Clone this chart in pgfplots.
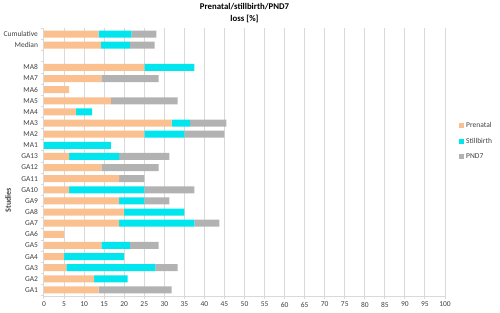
\documentclass[border=0pt]{standalone}
\usepackage{pgfplots}
\usepackage{pgfplotstable}
\pgfplotsset{compat=1.18}
\usepackage{fontspec}
\setmainfont{Carlito}
\definecolor{prenatal}{RGB}{250,192,143}
\definecolor{still}{RGB}{0,229,238}
\definecolor{pnd}{RGB}{178,178,178}
\definecolor{gridc}{RGB}{217,217,217}
\definecolor{txt}{RGB}{64,64,64}
\pgfplotstableread{
y pre still pnd
0 13.64 0 18.18
1 12.5 8.33 0
2 5.56 22.22 5.55
3 5 15 0
4 14.29 7.14 7.14
5 5 0 0
6 18.75 18.75 6.25
7 20 15 0
8 18.75 6.25 6.25
9 6.25 18.75 12.5
10 18.75 0 6.25
11 14.29 0 14.28
12 6.25 12.5 12.5
13 0 16.67 0
14 25 10 10
15 31.82 4.55 9.09
16 8 4 0
17 16.67 0 16.66
18 6.25 0 0
19 14.29 0 14.28
20 25 12.5 0
22 14.2 7.2 6.2
23 13.6 8.2 6.2
}\data
\begin{document}
\begin{tikzpicture}
\begin{axis}[
  scale only axis, width=401pt, height=268pt,
  xbar stacked, bar width=7pt,
  xmin=0, xmax=100, ymin=-0.54, ymax=23.54,
  xtick={0,5,...,100},
  ytick={0,...,20,22,23},
  yticklabels={GA1,GA2,GA3,GA4,GA5,GA6,GA7,GA8,GA9,GA10,GA11,GA12,GA13,MA1,MA2,MA3,MA4,MA5,MA6,MA7,MA8,Median,Cumulative},
  minor ytick={-0.5,0.5,...,23.5},
  ytick style={draw=none},
  minor y tick style={draw=gridc, line width=0.8pt},
  minor tick length=3pt,
  major tick length=2.5pt,
  tick align=outside,
  xtick style={draw=gridc, line width=1pt},
  axis x line*=bottom, axis y line*=left,
  axis line style={draw=gridc, line width=1pt, -},
  xmajorgrids, major grid style={draw=gridc, line width=1pt},
  tick label style={font=\fontsize{7.5}{9}\selectfont, text=txt},
  /pgf/number format/assume math mode=true,
  ylabel={Studies},
  ylabel style={font=\bfseries\fontsize{8}{10}\selectfont, at={(rel axis cs:-0.0898,0.358)}, anchor=center, text=txt},
  title={Prenatal/stillbirth/PND7\\loss [\%]},
  title style={align=center, font=\bfseries\fontsize{8.8}{12}\selectfont, at={(rel axis cs:0.5,1)}, anchor=south, inner sep=1pt, yshift=-2pt},
  legend style={at={(rel axis cs:1.035,0.578)}, anchor=west, draw=none, fill=none, inner sep=0pt,
    font=\fontsize{7.5}{9}\selectfont, text=txt, row sep=5pt, cells={anchor=west}},
  clip=false,
]
\addplot[fill=prenatal, draw=none, legend image code/.code={\fill[prenatal] (0pt,-2.5pt) rectangle (5pt,2.5pt);}] table[x=pre,y=y]{\data};
\addplot[fill=still, draw=none, legend image code/.code={\fill[still] (0pt,-2.5pt) rectangle (5pt,2.5pt);}] table[x=still,y=y]{\data};
\addplot[fill=pnd, draw=none, legend image code/.code={\fill[pnd] (0pt,-2.5pt) rectangle (5pt,2.5pt);}] table[x=pnd,y=y]{\data};
\legend{Prenatal,Stillbirth,PND7}
\coordinate (bl) at (rel axis cs:0,0);
\coordinate (tr) at (rel axis cs:1,1);
\end{axis}
\pgfresetboundingbox
\path[use as bounding box] ([xshift=-44pt,yshift=-16pt]bl) rectangle ([xshift=55pt,yshift=28pt]tr);
\end{tikzpicture}
\end{document}
